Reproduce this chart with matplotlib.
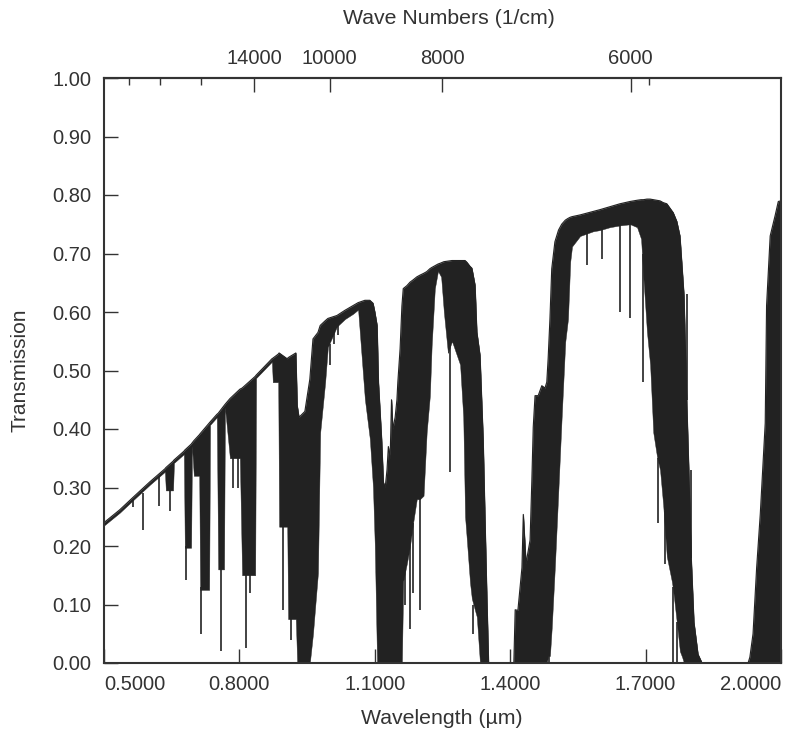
import matplotlib
matplotlib.use("Agg")
import matplotlib.pyplot as plt

# upper / lower edge of the inked band of the transmission trace
wavelength_um = [
    0.500, 0.535, 0.564, 0.602, 0.635, 0.637, 0.653, 0.655, 0.677, 0.679,
    0.693, 0.695, 0.699, 0.711, 0.713, 0.733, 0.735, 0.750, 0.753, 0.766,
    0.768, 0.779, 0.801, 0.806, 0.835, 0.837, 0.872, 0.874, 0.886, 0.888,
    0.906, 0.908, 0.925, 0.928, 0.932, 0.945, 0.956, 0.963, 0.974, 0.979,
    0.990, 0.996, 1.016, 1.034, 1.052, 1.063, 1.078, 1.089, 1.096, 1.100,
    1.105, 1.108, 1.115, 1.119, 1.123, 1.127, 1.130, 1.134, 1.137, 1.140,
    1.145, 1.149, 1.151, 1.156, 1.160, 1.163, 1.171, 1.178, 1.185, 1.193,
    1.200, 1.208, 1.215, 1.222, 1.226, 1.233, 1.240, 1.247, 1.253, 1.262,
    1.271, 1.280, 1.289, 1.296, 1.300, 1.304, 1.311, 1.315, 1.322, 1.326,
    1.333, 1.340, 1.344, 1.348, 1.352, 1.408, 1.411, 1.417, 1.426, 1.429,
    1.435, 1.444, 1.448, 1.451, 1.455, 1.462, 1.470, 1.477, 1.481, 1.484,
    1.488, 1.492, 1.499, 1.507, 1.514, 1.522, 1.528, 1.533, 1.537, 1.555,
    1.584, 1.599, 1.621, 1.643, 1.666, 1.681, 1.690, 1.695, 1.703, 1.710,
    1.717, 1.725, 1.732, 1.739, 1.747, 1.758, 1.761, 1.769, 1.776, 1.781,
    1.785, 1.791, 1.796, 1.801, 1.807, 1.816, 1.825, 1.927, 1.931, 1.938,
    1.946, 1.954, 1.965, 1.968, 1.976, 1.987, 1.994, 2.000,
]
trans_upper = [
    0.240, 0.262, 0.283, 0.310, 0.332, 0.334, 0.345, 0.347, 0.362, 0.364,
    0.374, 0.376, 0.380, 0.390, 0.392, 0.410, 0.412, 0.425, 0.427, 0.440,
    0.442, 0.452, 0.468, 0.470, 0.490, 0.492, 0.520, 0.521, 0.528, 0.530,
    0.520, 0.522, 0.530, 0.440, 0.420, 0.430, 0.485, 0.554, 0.565, 0.577,
    0.585, 0.589, 0.594, 0.603, 0.611, 0.616, 0.620, 0.620, 0.615, 0.600,
    0.577, 0.480, 0.383, 0.309, 0.300, 0.330, 0.370, 0.350, 0.450, 0.400,
    0.420, 0.450, 0.480, 0.537, 0.610, 0.640, 0.645, 0.651, 0.655, 0.660,
    0.663, 0.666, 0.669, 0.674, 0.676, 0.679, 0.682, 0.684, 0.686, 0.687,
    0.688, 0.688, 0.688, 0.688, 0.688, 0.685, 0.678, 0.675, 0.646, 0.566,
    0.526, 0.383, 0.250, 0.120, 0.000, 0.000, 0.091, 0.090, 0.163, 0.254,
    0.170, 0.210, 0.314, 0.403, 0.457, 0.457, 0.474, 0.470, 0.480, 0.520,
    0.588, 0.674, 0.720, 0.740, 0.750, 0.757, 0.760, 0.762, 0.763, 0.766,
    0.772, 0.775, 0.780, 0.785, 0.789, 0.791, 0.792, 0.792, 0.793, 0.793,
    0.792, 0.791, 0.790, 0.787, 0.785, 0.773, 0.770, 0.755, 0.730, 0.674,
    0.628, 0.450, 0.320, 0.180, 0.070, 0.015, 0.000, 0.000, 0.010, 0.050,
    0.163, 0.254, 0.410, 0.611, 0.730, 0.765, 0.789, 0.790,
]
trans_lower = [
    0.235, 0.257, 0.278, 0.305, 0.327, 0.295, 0.295, 0.342, 0.357, 0.197,
    0.197, 0.371, 0.320, 0.320, 0.125, 0.125, 0.407, 0.420, 0.160, 0.160,
    0.437, 0.350, 0.350, 0.150, 0.150, 0.487, 0.515, 0.480, 0.480, 0.233,
    0.233, 0.075, 0.075, 0.000, 0.000, 0.000, 0.000, 0.050, 0.154, 0.394,
    0.480, 0.540, 0.575, 0.588, 0.597, 0.604, 0.451, 0.383, 0.300, 0.200,
    0.000, 0.000, 0.000, 0.000, 0.000, 0.000, 0.000, 0.000, 0.000, 0.000,
    0.000, 0.000, 0.000, 0.000, 0.000, 0.140, 0.170, 0.200, 0.240, 0.280,
    0.280, 0.286, 0.395, 0.457, 0.543, 0.640, 0.670, 0.660, 0.600, 0.530,
    0.550, 0.530, 0.510, 0.420, 0.250, 0.210, 0.137, 0.110, 0.090, 0.079,
    0.000, 0.000, 0.000, 0.000, 0.000, 0.000, 0.000, 0.000, 0.000, 0.000,
    0.000, 0.000, 0.000, 0.000, 0.000, 0.000, 0.000, 0.000, 0.000, 0.012,
    0.012, 0.060, 0.165, 0.300, 0.420, 0.549, 0.588, 0.686, 0.712, 0.730,
    0.738, 0.740, 0.745, 0.748, 0.750, 0.745, 0.725, 0.660, 0.566, 0.510,
    0.394, 0.354, 0.330, 0.270, 0.182, 0.140, 0.125, 0.070, 0.020, 0.010,
    0.000, 0.000, 0.000, 0.000, 0.000, 0.000, 0.000, 0.000, 0.000, 0.000,
    0.000, 0.000, 0.000, 0.000, 0.000, 0.000, 0.000, 0.000,
]

# single narrow absorption lines: position, bottom, top
line_um = [0.564, 0.586, 0.622, 0.646, 0.682, 0.715, 0.759, 0.786, 0.797,
           0.815, 0.824, 0.897, 0.914, 1.001, 1.010, 1.018, 1.167, 1.178,
           1.184, 1.200, 1.267, 1.318, 1.486, 1.570, 1.604, 1.643, 1.666,
           1.694, 1.728, 1.742, 1.761, 1.770, 1.791, 1.800]
line_bottom = [0.266, 0.228, 0.268, 0.259, 0.142, 0.050, 0.020, 0.300, 0.300,
               0.026, 0.120, 0.090, 0.040, 0.510, 0.545, 0.560, 0.100, 0.058,
               0.120, 0.090, 0.326, 0.050, 0.000, 0.680, 0.690, 0.600, 0.590,
               0.480, 0.240, 0.170, 0.000, 0.000, 0.450, 0.180]
line_top = [0.280, 0.290, 0.320, 0.300, 0.200, 0.130, 0.165, 0.350, 0.350,
            0.155, 0.155, 0.235, 0.080, 0.545, 0.580, 0.580, 0.160, 0.210,
            0.240, 0.290, 0.550, 0.100, 0.020, 0.740, 0.745, 0.750, 0.750,
            0.700, 0.350, 0.260, 0.130, 0.070, 0.630, 0.330]

x_ticks = [0.5, 0.8, 1.1, 1.4, 1.7, 2.0]
y_ticks = [0.0, 0.1, 0.2, 0.3, 0.4, 0.5, 0.6, 0.7, 0.8, 0.9, 1.0]

# top axis (wave numbers, cm^-1) -- labels as printed on the original
top_major_wn = [12000, 10000, 8000, 6000]
top_major_labels = ['14000', '10000', '8000', '6000']
top_minor_wn = [18000, 16000, 14000, 5860]

ink = '#222222'
plt.rcParams['font.family'] = ['Liberation Sans', 'DejaVu Sans']
plt.rcParams['font.size'] = 14.5
plt.rcParams['text.color'] = '#333333'

fig = plt.figure(figsize=(7.88, 7.36), dpi=100)
W, H = 788.0, 736.0
ax = fig.add_axes([104 / W, 1 - 663 / H, (781 - 104) / W, (663 - 78) / H])

ax.fill_between(wavelength_um, trans_lower, trans_upper, color=ink, lw=0.3)
ax.plot(wavelength_um, trans_upper, color=ink, lw=0.8)
ax.vlines(line_um, line_bottom, line_top, color=ink, lw=1.2)

ax.set_xlim(0.5, 2.0)
ax.set_ylim(0.0, 1.0)

ax.set_xticks(x_ticks, labels=['%.4f' % v for v in x_ticks])
ax.set_yticks(y_ticks, labels=['%.2f' % v for v in y_ticks])
ax.tick_params(direction='in', length=10, width=1, color='#333333',
               labelcolor='#333333', labelsize=14.5)
ax.tick_params(axis='x', pad=9)
ax.tick_params(axis='y', pad=9)
xl = ax.get_xticklabels()
xl[0].set_ha('left')
xl[-1].set_ha('right')

for s in ax.spines.values():
    s.set_color('#333333')
    s.set_linewidth(1.5)

top = ax.secondary_xaxis('top')
top.set_xticks([1e4 / w for w in top_major_wn], labels=top_major_labels)
top.set_xticks([1e4 / w for w in top_minor_wn], minor=True)
top.tick_params(which='major', direction='in', length=10, width=1,
                color='#333333', labelcolor='#333333', labelsize=14.5, pad=7)
top.tick_params(which='minor', direction='in', length=5, width=1,
                color='#333333')
top.spines['top'].set_linewidth(1.5)
top.spines['top'].set_color('#333333')

fig.text(449 / W, 1 - 18 / H, 'Wave Numbers (1/cm)', ha='center', va='center',
         fontsize=15.3)
fig.text(442 / W, 1 - 718 / H, 'Wavelength (\u00b5m)', ha='center', va='center',
         fontsize=15.3)
fig.text(20 / W, 1 - 370 / H, 'Transmission', ha='center', va='center',
         rotation=90, fontsize=15)

fig.savefig('out.png', dpi=100)
